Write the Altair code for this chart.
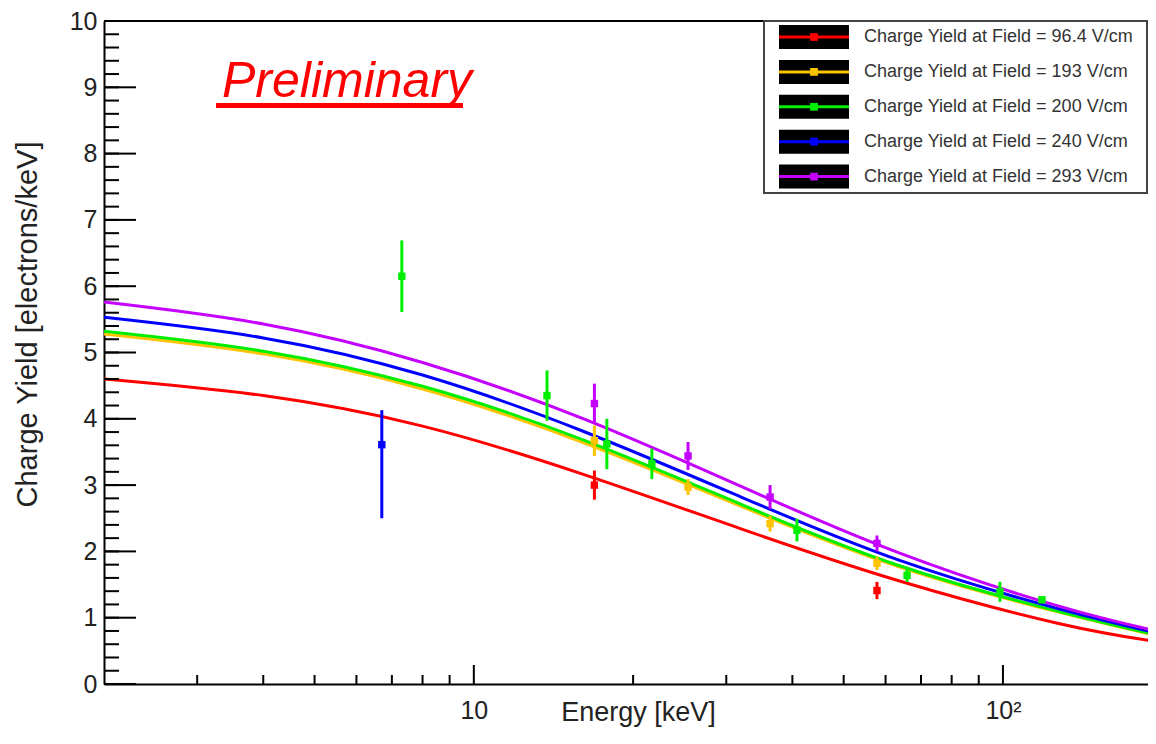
import altair as alt
import pandas as pd

# ---------------- data ----------------
series = ["Charge Yield at Field = 96.4 V/cm",
          "Charge Yield at Field = 193 V/cm",
          "Charge Yield at Field = 200 V/cm",
          "Charge Yield at Field = 240 V/cm",
          "Charge Yield at Field = 293 V/cm"]
colors = ["#ff0000", "#ffc400", "#00ee00", "#0000ff", "#c400ff"]

# fitted curves
fit_energy = [2, 4, 8, 16, 32, 64, 128, 195]
fit_red    = [4.60, 4.35, 3.89, 3.17, 2.34, 1.55, 0.91, 0.64]
fit_yellow = [5.28, 4.98, 4.45, 3.65, 2.68, 1.76, 1.08, 0.73]
fit_green  = [5.32, 5.02, 4.49, 3.69, 2.71, 1.78, 1.09, 0.74]
fit_blue   = [5.53, 5.22, 4.66, 3.82, 2.82, 1.86, 1.13, 0.77]
fit_purple = [5.76, 5.43, 4.85, 4.01, 2.98, 1.97, 1.17, 0.80]

# measured points
red_E = [16.9, 57.8]
red_y = [3.00, 1.41]
red_lo = [2.78, 1.28]
red_hi = [3.22, 1.54]

yellow_E = [16.9, 25.4, 36.3, 57.8]
yellow_y = [3.67, 2.97, 2.42, 1.82]
yellow_lo = [3.44, 2.85, 2.30, 1.72]
yellow_hi = [3.90, 3.09, 2.54, 1.92]

green_E = [7.31, 13.75, 17.84, 21.7, 40.8, 65.9, 98.7, 118.5]
green_y = [6.15, 4.35, 3.62, 3.32, 2.32, 1.64, 1.39, 1.27]
green_lo = [5.61, 3.97, 3.24, 3.09, 2.15, 1.54, 1.24, 1.22]
green_hi = [6.69, 4.73, 4.00, 3.55, 2.49, 1.74, 1.54, 1.32]

blue_E = [6.70]
blue_y = [3.61]
blue_lo = [2.50]
blue_hi = [4.13]

purple_E = [16.9, 25.4, 36.3, 57.8]
purple_y = [4.23, 3.44, 2.82, 2.12]
purple_lo = [3.93, 3.23, 2.64, 2.00]
purple_hi = [4.53, 3.65, 3.00, 2.24]

# axis tick values
y_major = [0, 1, 2, 3, 4, 5, 6, 7, 8, 9, 10]
y_minor = [round(0.2 * i, 1) for i in range(51)]
x_major = [10, 100]
x_minor = [3, 4, 5, 6, 7, 8, 9, 20, 30, 40, 50, 60, 70, 80, 90]

# ---------------- tables ----------------
fits = [fit_red, fit_yellow, fit_green, fit_blue, fit_purple]
fit_rows = []
for s, vals in zip(series, fits):
    for e, v in zip(fit_energy, vals):
        fit_rows.append({"series": s, "E": e, "Y": v})
fit_df = pd.DataFrame(fit_rows)

pts = [(red_E, red_y, red_lo, red_hi), (yellow_E, yellow_y, yellow_lo, yellow_hi),
       (green_E, green_y, green_lo, green_hi), (blue_E, blue_y, blue_lo, blue_hi),
       (purple_E, purple_y, purple_lo, purple_hi)]
pt_rows = []
for s, (E, Y, LO, HI) in zip(series, pts):
    for e, v, lo, hi in zip(E, Y, LO, HI):
        pt_rows.append({"series": s, "E": e, "Y": v, "lo": lo, "hi": hi})
pt_df = pd.DataFrame(pt_rows)

W, H = 1044, 663
XMIN, XMAX = 2, 188
FONT = "Liberation Sans"

xs = alt.Scale(type="log", domain=[XMIN, XMAX], nice=False)
ys = alt.Scale(domain=[0, 10], nice=False, zero=False)
cs = alt.Scale(domain=series, range=colors)

ax_x = alt.Axis(values=x_major, title="Energy [keV]", tickSize=0, grid=False,
                domainColor="black", domainWidth=2, labelFontSize=25, labelFont=FONT,
                labelColor="#222", labelPadding=14, labelOverlap=False,
                labelExpr="datum.value == 100 ? '10²' : '10'",
                titleFont=FONT, titleFontSize=27, titleFontWeight="normal",
                titleColor="#222", titleX=534, titleY=28, titleBaseline="middle",
                titleAlign="center")
ax_y = alt.Axis(values=y_major, title="Charge Yield [electrons/keV]", tickSize=0,
                grid=False, domainColor="black", domainWidth=2, labelFontSize=25,
                labelFont=FONT, labelColor="#222", labelPadding=7, labelOverlap=False,
                titleFont=FONT, titleFontSize=29, titleFontWeight="normal",
                titleColor="#222", titleX=-77, titleY=303, titleAngle=-90,
                titleBaseline="middle", titleAlign="center")

curves = alt.Chart(fit_df).mark_line(strokeWidth=3, interpolate="natural", clip=True).encode(
    x=alt.X("E:Q", scale=xs, axis=ax_x),
    y=alt.Y("Y:Q", scale=ys, axis=ax_y),
    color=alt.Color("series:N", scale=cs, legend=None),
    detail="series:N",
)

errbars = alt.Chart(pt_df).mark_rule(strokeWidth=3).encode(
    x=alt.X("E:Q", scale=xs, axis=ax_x),
    y=alt.Y("lo:Q", scale=ys, axis=ax_y),
    y2="hi:Q",
    color=alt.Color("series:N", scale=cs, legend=None),
)
points = alt.Chart(pt_df).mark_square(size=55, opacity=1, filled=True).encode(
    x=alt.X("E:Q", scale=xs, axis=ax_x),
    y=alt.Y("Y:Q", scale=ys, axis=ax_y),
    color=alt.Color("series:N", scale=cs, legend=None),
)

# inward ticks (ROOT style)
ymaj_df = pd.DataFrame({"v": y_major})
ymin_df = pd.DataFrame({"v": y_minor})
xmaj_df = pd.DataFrame({"v": x_major})
xmin_df = pd.DataFrame({"v": x_minor})

ytick_major = alt.Chart(ymaj_df).mark_rule(color="black", strokeWidth=2).encode(
    y=alt.Y("v:Q", scale=ys, axis=ax_y), x=alt.value(0), x2=alt.value(32))
ytick_minor = alt.Chart(ymin_df).mark_rule(color="black", strokeWidth=2).encode(
    y=alt.Y("v:Q", scale=ys, axis=ax_y), x=alt.value(0), x2=alt.value(15))
xtick_major = alt.Chart(xmaj_df).mark_rule(color="black", strokeWidth=2).encode(
    x=alt.X("v:Q", scale=xs, axis=ax_x), y=alt.value(H), y2=alt.value(H - 19))
xtick_minor = alt.Chart(xmin_df).mark_rule(color="black", strokeWidth=2).encode(
    x=alt.X("v:Q", scale=xs, axis=ax_x), y=alt.value(H), y2=alt.value(H - 9))
top_line = alt.Chart(ymaj_df).mark_rule(color="black", strokeWidth=2).encode(
    x=alt.value(0), x2=alt.value(W), y=alt.value(0))

# "Preliminary" stamp
prelim = alt.Chart(pd.DataFrame({"t": ["Preliminary"]})).mark_text(
    font=FONT, fontSize=50, fontStyle="italic", color="#ff0000", align="left",
    baseline="alphabetic").encode(text="t:N", x=alt.value(118), y=alt.value(76))
underline = alt.Chart(pd.DataFrame({"t": ["u"]})).mark_rule(
    color="#ff0000", strokeWidth=5).encode(x=alt.value(112), x2=alt.value(359),
                                           y=alt.value(84.5))

# custom legend (ROOT style: black swatch with coloured line + marker)
leg_df = pd.DataFrame({
    "label": series,
    "col": colors,
    "ly": [16 + 34.9 * i for i in range(len(series))],
})
leg_box = alt.Chart(pd.DataFrame({"t": ["box"]})).mark_rect(
    fill="white", stroke="#444", strokeWidth=2).encode(
    x=alt.value(660), x2=alt.value(1043), y=alt.value(0), y2=alt.value(172))
leg_sw = alt.Chart(leg_df).mark_rect(fill="black").encode(
    x=alt.value(675), x2=alt.value(745),
    y=alt.Y("y0:Q", scale=None), y2=alt.Y2("y1:Q")).transform_calculate(
    y0="datum.ly - 12", y1="datum.ly + 12")
leg_line = alt.Chart(leg_df).mark_rule(strokeWidth=3).encode(
    x=alt.value(675), x2=alt.value(745), y=alt.Y("ly:Q", scale=None),
    color=alt.Color("col:N", scale=None))
leg_dot = alt.Chart(leg_df).mark_square(size=60, filled=True, opacity=1).encode(
    x=alt.value(710), y=alt.Y("ly:Q", scale=None), color=alt.Color("col:N", scale=None))
leg_txt = alt.Chart(leg_df).mark_text(font=FONT, fontSize=18, color="#333",
                                      align="left", baseline="middle").encode(
    x=alt.value(760), y=alt.Y("ly:Q", scale=None), text="label:N")

chart = alt.layer(
    curves, errbars, points,
    ytick_minor, ytick_major, xtick_minor, xtick_major, top_line,
    prelim, underline,
    leg_box, leg_sw, leg_line, leg_dot, leg_txt,
).properties(
    width=W, height=H,
    autosize=alt.AutoSizeParams(type="none"),
    padding={"left": 96, "top": 13, "right": 0, "bottom": 44},
    background="white",
).configure_view(stroke=None)

chart.save("out.html", embed_options={"renderer": "svg", "actions": False})
